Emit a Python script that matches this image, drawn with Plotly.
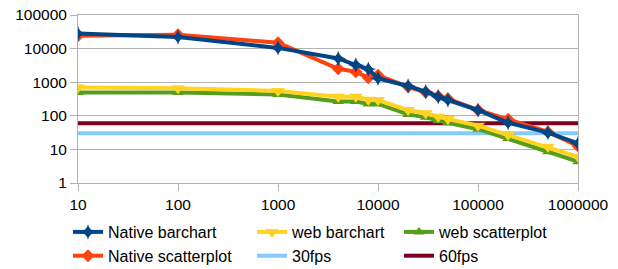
import plotly.graph_objects as go

# ---- data ----
x_points = [10, 100, 1000, 4000, 6000, 8000, 10000, 20000, 30000, 40000, 50000,
            100000, 200000, 500000, 1000000]
native_barchart = [28000, 22000, 10500, 5100, 3250, 2450, 1300, 770, 525, 370, 295,
                   148, 62, 31.5, 15]
native_scatterplot = [24000, 26000, 15000, 2500, 2050, 1350, 1600, 730, 500, 380, 320,
                      150, 79, 33, 12.6]
web_barchart = [700, 660, 550, 370, 370, 300, 295, 148, 119, 94, 80, 51, 27, 12, 6]
web_scatterplot = [490, 490, 430, 265, 265, 225, 225, 110, 90, 71, 62, 40, 21, 8.5, 4.3]
fps_x = [10, 1000000]
fps_30 = [30, 30]
fps_60 = [60, 60]

tick_vals = [1, 10, 100, 1000, 10000, 100000, 1000000]
tick_text = ["1", "10", "100", "1000", "10000", "100000", "1000000"]

FONT = "Liberation Sans"
FS = 15.5
LFS = 16
GRID = "#b3b3b3"

fig = go.Figure()

fig.add_trace(go.Scatter(x=fps_x, y=fps_30, mode="lines", name="30fps",
                         line=dict(color="#83caff", width=4),
                         legend="legend2", legendrank=2))
fig.add_trace(go.Scatter(x=fps_x, y=fps_60, mode="lines", name="60fps",
                         line=dict(color="#7e0021", width=4),
                         legend="legend3", legendrank=2))
fig.add_trace(go.Scatter(x=x_points, y=web_scatterplot, mode="lines+markers",
                         name="web scatterplot",
                         line=dict(color="#579d1c", width=4),
                         marker=dict(symbol="triangle-up", size=10, color="#579d1c"),
                         legend="legend3", legendrank=1))
fig.add_trace(go.Scatter(x=x_points, y=web_barchart, mode="lines+markers",
                         name="web barchart",
                         line=dict(color="#ffd320", width=4),
                         marker=dict(symbol="triangle-down", size=12, color="#ffd320"),
                         legend="legend2", legendrank=1))
fig.add_trace(go.Scatter(x=x_points, y=native_scatterplot, mode="lines+markers",
                         name="Native scatterplot",
                         line=dict(color="#ff420e", width=4),
                         marker=dict(symbol="diamond", size=10, color="#ff420e"),
                         legend="legend", legendrank=2))
fig.add_trace(go.Scatter(x=x_points, y=native_barchart, mode="lines+markers",
                         name="Native barchart",
                         line=dict(color="#004586", width=4),
                         marker=dict(symbol="star-diamond", size=11, color="#004586"),
                         legend="legend", legendrank=1))

axis_common = dict(type="log", gridcolor=GRID, gridwidth=1,
                   showline=True, linecolor=GRID, linewidth=1, mirror=True,
                   ticks="outside", tickcolor=GRID, ticklen=7,
                   tickvals=tick_vals, ticktext=tick_text,
                   tickfont=dict(family=FONT, size=FS, color="#000000"),
                   zeroline=False, automargin=False)

fig.update_xaxes(range=[1, 6], showgrid=False, tickangle=0, **axis_common)
fig.update_yaxes(range=[0, 5], showgrid=True, **axis_common)

leg_common = dict(orientation="v", xref="container", yref="container",
                  xanchor="left", yanchor="top", y=1 - 215 / 269,
                  font=dict(family=FONT, size=LFS, color="#000000"),
                  bgcolor="rgba(0,0,0,0)", borderwidth=0, tracegroupgap=0,
                  itemclick=False)

fig.update_layout(
    width=618, height=269,
    margin=dict(l=78, r=40, t=15, b=86, autoexpand=False),
    paper_bgcolor="white", plot_bgcolor="white",
    font=dict(family=FONT, size=FS, color="#000000"),
    showlegend=True,
    legend=dict(x=68 / 618, **leg_common),
    legend2=dict(x=252 / 618, **leg_common),
    legend3=dict(x=399 / 618, **leg_common),
)

fig.write_html("out.html", config={"displayModeBar": False},
               post_script="document.body.style.margin='0';document.body.style.overflow='hidden';")
